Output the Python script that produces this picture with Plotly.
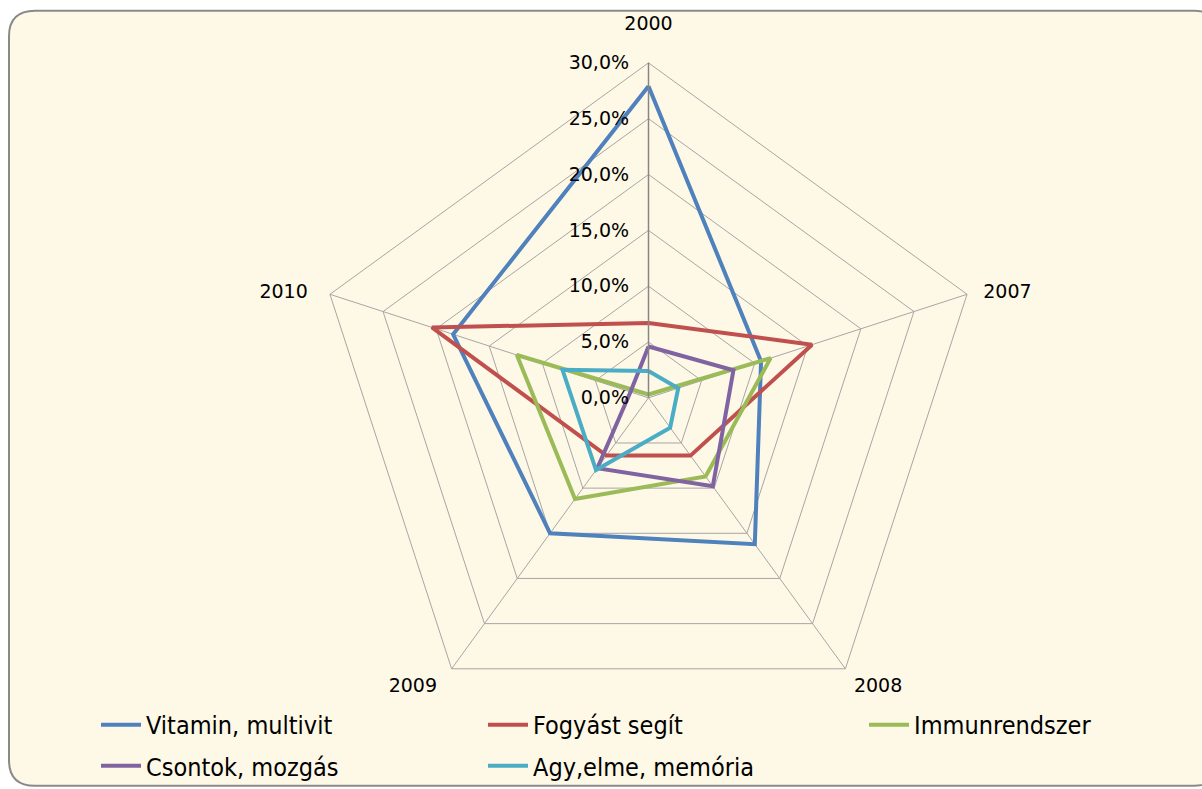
import plotly.graph_objects as go

categories = ["2000", "2007", "2008", "2009", "2010"]
category_labels = ["2000<br> ", "&nbsp;&nbsp;2007", "&nbsp;2008", "2009&nbsp;&nbsp;", "2010&nbsp;&nbsp;&nbsp;"]
series_names = ["Vitamin, multivit", "Fogyást segít", "Immunrendszer",
                "Csontok, mozgás", "Agy,elme, memória"]
vitamin = [27.9, 10.6, 16.2, 15.0, 18.4]
fogyast = [6.7, 15.4, 6.4, 6.4, 20.4]
immun = [0.3, 11.5, 8.7, 11.2, 12.4]
csontok = [4.6, 8.0, 9.8, 7.8, 1.7]
agy = [2.4, 2.8, 3.3, 8.0, 8.1]
colors = ["#4F81BD", "#C0504D", "#9BBB59", "#8064A2", "#4BACC6"]
radial_ticks = [0, 5, 10, 15, 20, 25, 30]

W, H = 1202, 789
legend_ids = ["legend", "legend2", "legend3", "legend4", "legend5"]
# legend slot positions in pixels (left x, center y)
legend_pos = [(96, 738), (483, 738), (864, 738), (96, 780), (483, 780)]

fig = go.Figure()
for name, vals, col, lg in zip(series_names, [vitamin, fogyast, immun, csontok, agy], colors, legend_ids):
    fig.add_trace(go.Scatterpolar(
        r=vals + vals[:1], theta=categories + categories[:1],
        mode="lines", name=name, line=dict(color=col, width=4), legend=lg,
        showlegend=True,
    ))

cx, cy, R = 648.5, 405, 341
def fx(px):
    return px / W
def fy(py):
    return 1 - py / H

# rounded background box
x0, y0, x1, y1, rr = 9, 11, 1220, 800, 26
path = (f"M {fx(x0+rr)},{fy(y0)} L {fx(x1-rr)},{fy(y0)} Q {fx(x1)},{fy(y0)} {fx(x1)},{fy(y0+rr)} "
        f"L {fx(x1)},{fy(y1-rr)} Q {fx(x1)},{fy(y1)} {fx(x1-rr)},{fy(y1)} "
        f"L {fx(x0+rr)},{fy(y1)} Q {fx(x0)},{fy(y1)} {fx(x0)},{fy(y1-rr)} "
        f"L {fx(x0)},{fy(y0+rr)} Q {fx(x0)},{fy(y0)} {fx(x0+rr)},{fy(y0)} Z")

legend_font = dict(size=25, family="Liberation Sans Narrow, DejaVu Sans Condensed, sans-serif", color="#000000")
legends = {}
for lg, (lx, ly) in zip(legend_ids, legend_pos):
    legends[lg] = dict(orientation="h", xanchor="left", yanchor="middle",
                       x=fx(lx), y=fy(ly), font=legend_font,
                       bgcolor="rgba(0,0,0,0)", itemwidth=40, visible=True)

fig.update_layout(
    width=W, height=H,
    showlegend=True,
    paper_bgcolor="white",
    margin=dict(l=0, r=0, t=0, b=0),
    font=dict(family="DejaVu Sans, Verdana, sans-serif", size=19, color="#000000"),
    shapes=[dict(type="path", path=path, xref="paper", yref="paper",
                 fillcolor="#FEF8E6", line=dict(color="#8A8A8A", width=2), layer="below")],
    polar=dict(
        domain=dict(x=[fx(cx - R), fx(cx + R)], y=[fy(cy + R), fy(cy - R)]),
        bgcolor="rgba(0,0,0,0)",
        gridshape="linear",
        radialaxis=dict(
            range=[0, 30], tickvals=radial_ticks,
            ticktext=[f"{v:.1f}".replace(".", ",") + "%&nbsp;&nbsp;" for v in radial_ticks],
            angle=90, side="counterclockwise", tickangle=90,
            showline=True, linecolor="#868686", linewidth=1.5,
            gridcolor="#A6A6A6", gridwidth=1, ticks="",
            tickfont=dict(size=19),
        ),
        angularaxis=dict(
            rotation=90, direction="clockwise",
            tickvals=categories, ticktext=category_labels,
            showline=True, linecolor="#A6A6A6", linewidth=1,
            gridcolor="#A6A6A6", gridwidth=1, ticks="",
            tickfont=dict(size=19),
        ),
    ),
    **legends,
)

fig.write_html("out.html", config={"displayModeBar": False},
               post_script="document.body.style.margin='0';document.body.style.overflow='hidden';")
